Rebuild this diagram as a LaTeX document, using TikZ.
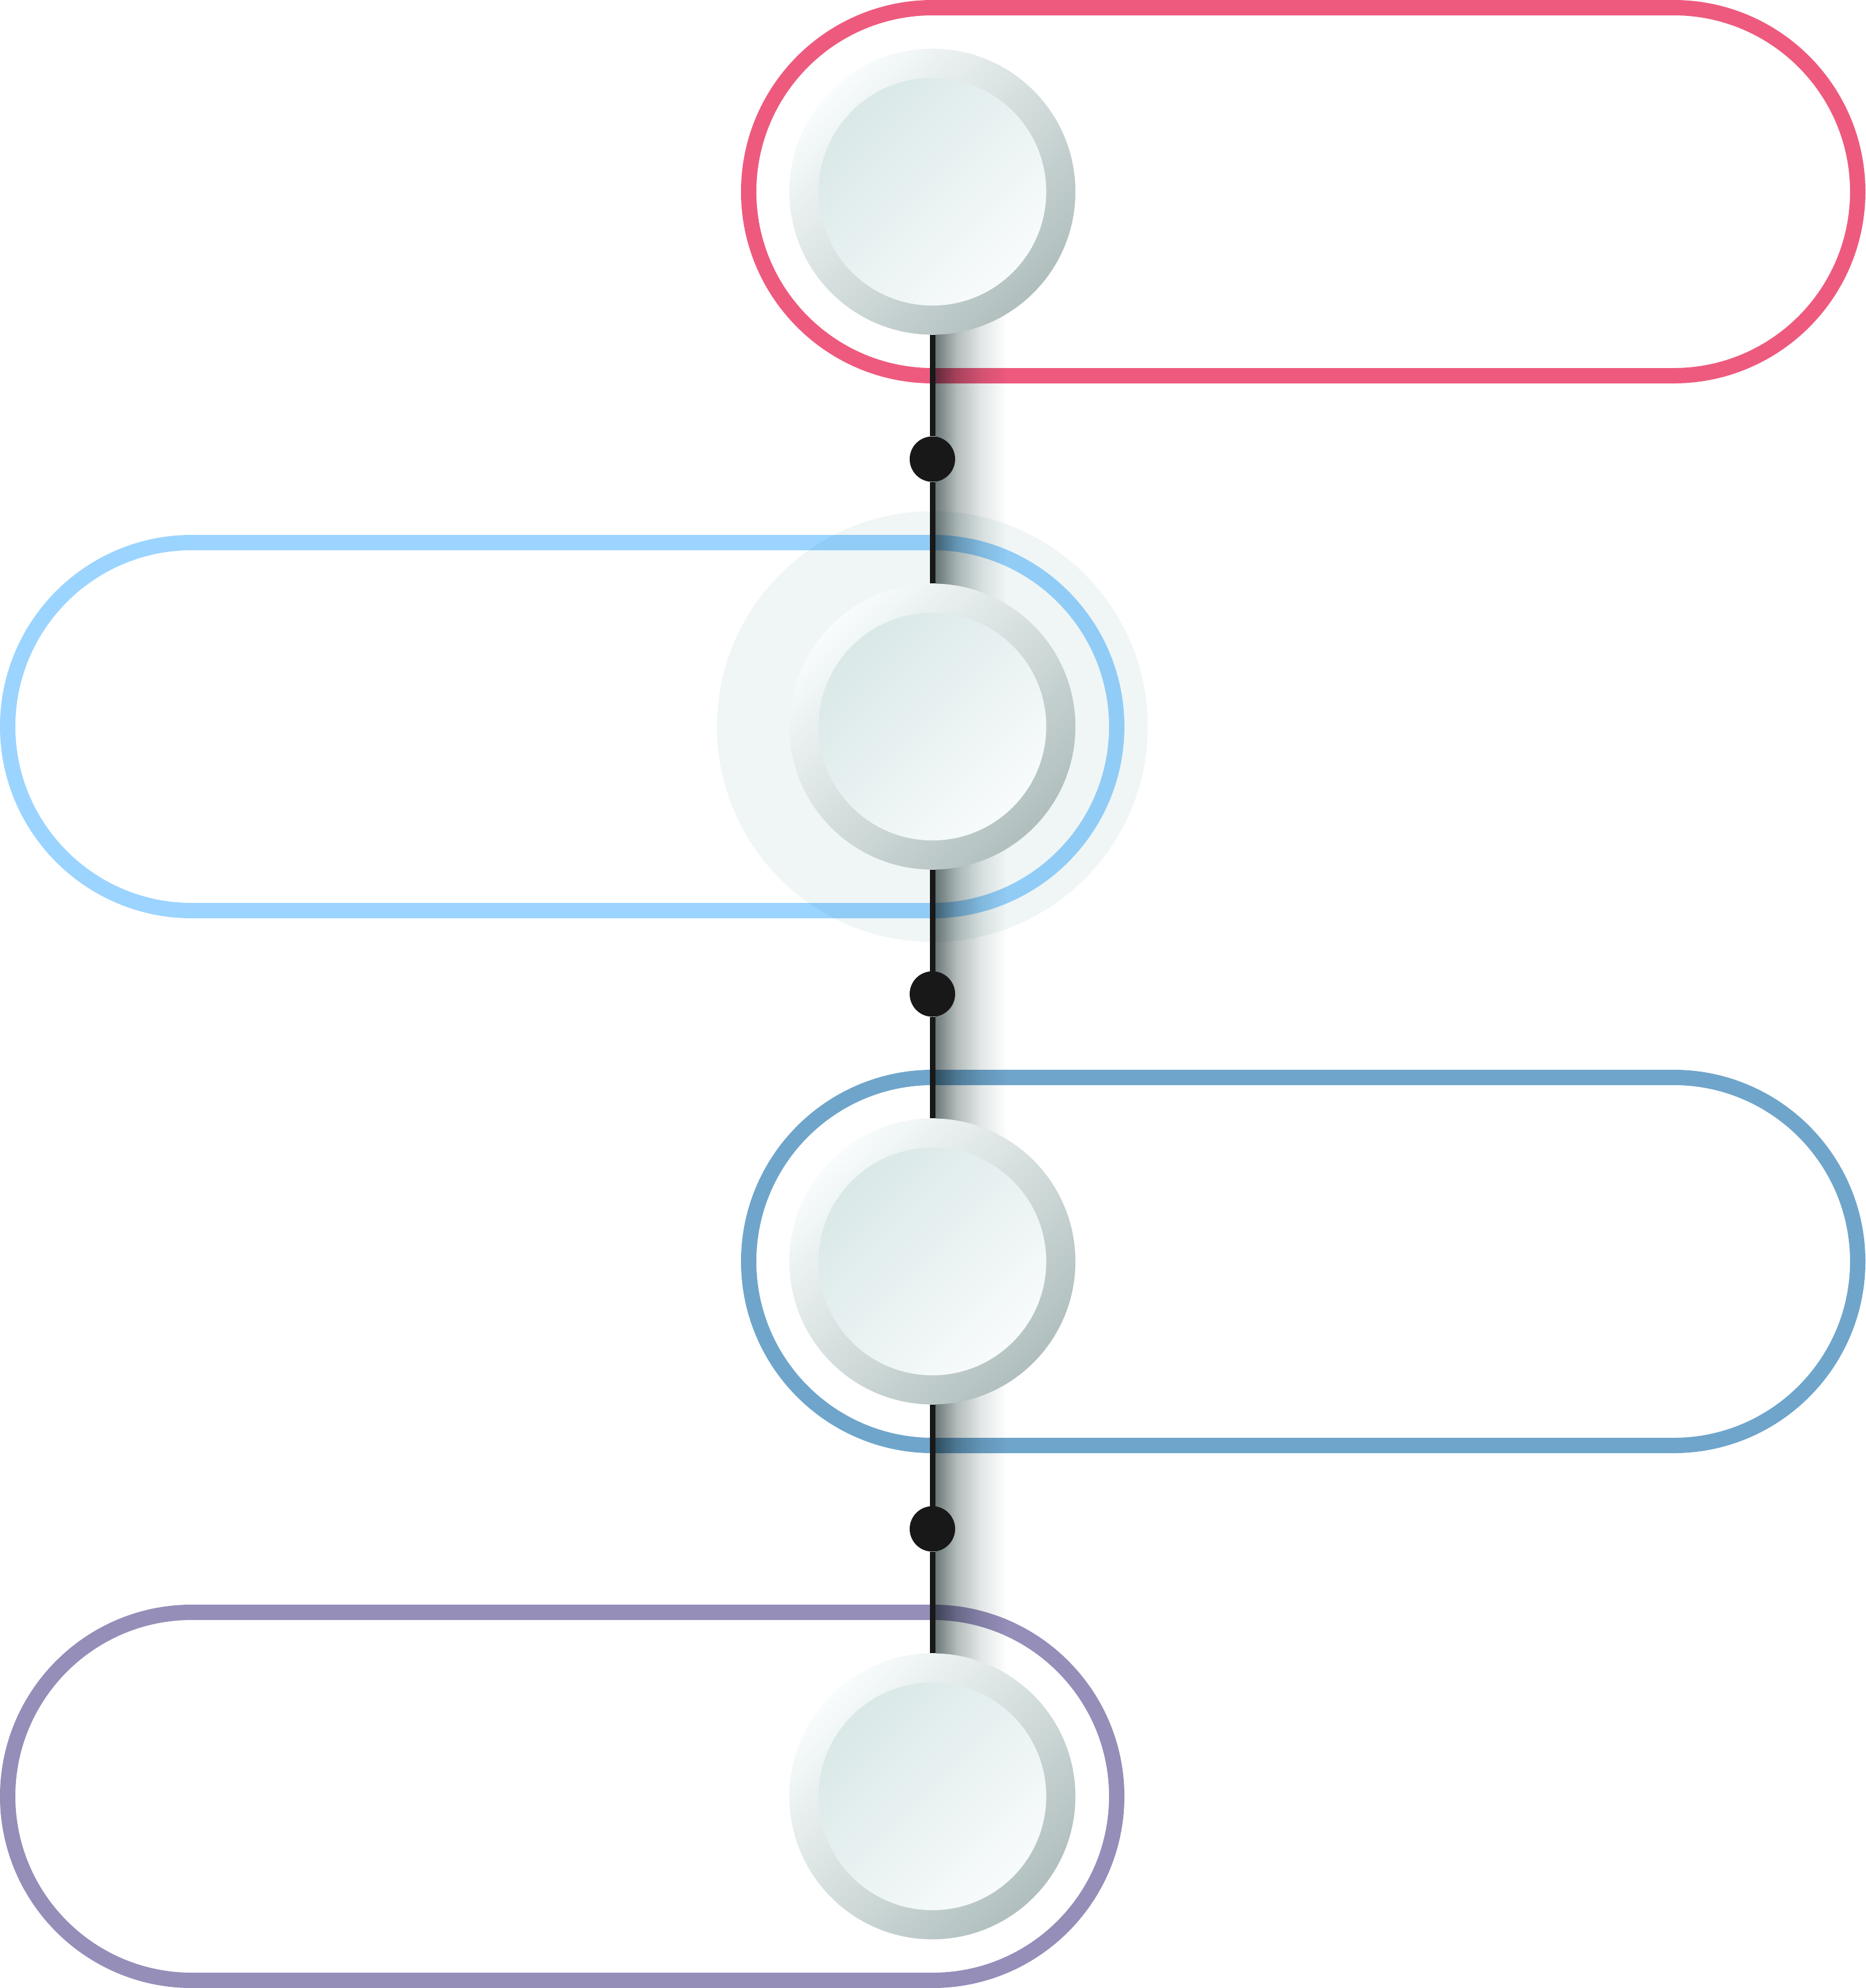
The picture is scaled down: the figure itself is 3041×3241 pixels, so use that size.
\documentclass[tikz,border=0pt]{standalone}
\usetikzlibrary{shapes.geometric}
\definecolor{pinkc}{HTML}{EE5A7E}
\definecolor{lblue}{HTML}{9BD4FF}
\definecolor{sblue}{HTML}{6FA5CB}
\definecolor{purp}{HTML}{948EB9}
\definecolor{ringtop}{HTML}{F8FCFC}
\definecolor{ringbot}{HTML}{B0BFBE}
\definecolor{disctop}{HTML}{DAE8E8}
\definecolor{discbot}{HTML}{F8FBFB}
\definecolor{halo}{HTML}{F0F6F6}
\definecolor{shadowc}{HTML}{6C7878}
\definecolor{shadowm}{HTML}{B4BCBC}
\definecolor{shadowl}{HTML}{E3E7E7}
\definecolor{spinec}{HTML}{181818}
\pgfdeclarehorizontalshading{shadowfade}{100bp}{color(0bp)=(shadowc); color(25bp)=(shadowc); color(40bp)=(shadowm); color(57bp)=(shadowl); color(75bp)=(white); color(100bp)=(white)}
\tikzset{
  stadium/.style={line width=0.25cm, rounded corners=3cm},
  ringdisc/.style={circle, minimum size=4.66cm, inner sep=0pt, outer sep=0pt,
    top color=ringtop, bottom color=ringbot, shading angle=45},
  innerdisc/.style={circle, minimum size=3.71cm, inner sep=0pt, outer sep=0pt,
    top color=disctop, bottom color=discbot, shading angle=45},
  dotnode/.style={circle, fill=spinec, minimum size=0.74cm, inner sep=0pt, outer sep=0pt},
  spine/.style={draw=spinec, line width=0.09cm},
  halonode/.style={circle, fill=halo, minimum size=7.02cm, inner sep=0pt}
}
\begin{document}
\begin{tikzpicture}[x=0.01cm, y=-0.01cm]
\useasboundingbox (0,0) rectangle (3041,3241);
% stadium outlines
\draw[stadium, draw=pinkc]  (1220.5,12.5)   rectangle (3028.5,612.5);
\draw[stadium, draw=lblue]  (12.5,884.5)    rectangle (1820.5,1484.5);
\draw[stadium, draw=sblue]  (1220.5,1756.5) rectangle (3028.5,2356.5);
\draw[stadium, draw=purp]   (12.5,2628.5)   rectangle (1820.5,3228.5);
% halo and shadow (multiply)
\begin{scope}[blend mode=multiply]
  \node[halonode] (halo) at (1520,1184.5) {};
  \shade[shading=shadowfade] (1525,312.5) rectangle (1642,2928.5);
\end{scope}
% circles
\node[ringdisc] (c1) at (1520,312.5) {};
\node[ringdisc] (c2) at (1520,1184.5) {};
\node[ringdisc] (c3) at (1520,2056.5) {};
\node[ringdisc] (c4) at (1520,2928.5) {};
\node[innerdisc] (i1) at (c1.center) {};
\node[innerdisc] (i2) at (c2.center) {};
\node[innerdisc] (i3) at (c3.center) {};
\node[innerdisc] (i4) at (c4.center) {};
% dots
\node[dotnode] (d1) at (1520,748.5) {};
\node[dotnode] (d2) at (1520,1620.5) {};
\node[dotnode] (d3) at (1520,2492.5) {};
% connectors
\draw[spine] (c1) -- (d1);
\draw[spine] (d1) -- (c2);
\draw[spine] (c2) -- (d2);
\draw[spine] (d2) -- (c3);
\draw[spine] (c3) -- (d3);
\draw[spine] (d3) -- (c4);
\end{tikzpicture}
\end{document}
